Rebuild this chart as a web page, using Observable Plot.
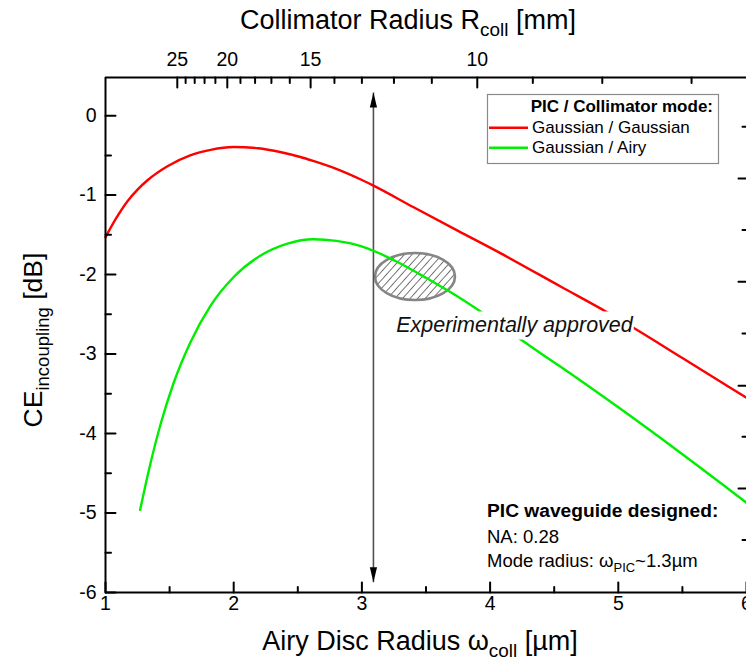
<!DOCTYPE html>
<html><head><meta charset="utf-8">
<script src="https://cdn.jsdelivr.net/npm/d3@7"></script>
<script src="https://cdn.jsdelivr.net/npm/@observablehq/plot@0.6"></script>
<style>
body{margin:0;background:#fff;}
#wrap{position:relative;width:746px;height:662px;overflow:hidden;background:#fff;}
</style></head>
<body><div id="wrap"></div>
<script>
// ---- data ----
const gaussX = [1.0,1.08,1.17,1.25,1.33,1.48,1.66,1.82,2.0,2.19,2.37,2.52,2.62,2.8,3.0,3.09,3.4,3.75,4.08,4.55,4.92,5.15,5.5,6.0];
const gaussY = [-1.53,-1.30,-1.08,-0.93,-0.81,-0.64,-0.50,-0.43,-0.395,-0.41,-0.46,-0.52,-0.57,-0.67,-0.81,-0.88,-1.15,-1.45,-1.73,-2.15,-2.48,-2.70,-3.05,-3.55];
const airyX = [1.27,1.35,1.43,1.53,1.66,1.82,2.0,2.21,2.42,2.62,2.8,3.01,3.09,3.3,3.51,3.69,3.94,4.34,4.55,5.0,5.5,6.0];
const airyY = [-4.96,-4.38,-3.88,-3.37,-2.86,-2.39,-2.03,-1.76,-1.61,-1.555,-1.575,-1.65,-1.70,-1.86,-2.05,-2.22,-2.48,-2.93,-3.16,-3.67,-4.26,-4.87];

const xMajor = [1,2,3,4,5,6];
const xMinor = [1.5,2.5,3.5,4.5,5.5];
const yMajor = [0,-1,-2,-3,-4,-5,-6];
const yMinor = [-0.5,-1.5,-2.5,-3.5,-4.5,-5.5];
const topMajorR = [25,20,15,10];
const topMinorR = [24,23,22,21,19,18,17,16,14,13,12,11,9,8,7];
const omegaTimesR = 39; // ω_coll [µm] * R_coll [mm] relation of the top axis
const rightMajor = [-0.79,-2.09,-3.40,-4.69];
const rightMinor = [-0.14,-1.44,-2.74,-4.04,-5.34];

const arrowX = [3.09];
const arrowTop = [0.29];
const arrowBottom = [-5.87];
const ellipseCenter = [{x:3.418, y:-2.03}];
const ellipseRadii = {rx:0.312, ry:0.296};
const noteText = [{x:4.19, y:-2.64, label:"Experimentally approved"}];

const xDomain = [1,6];
const yDomain = [-6,0.48];

// ---- helpers ----
const FONT = "'Liberation Sans', Arial, sans-serif";
// tick shapes drawn in screen space (y down), pointing into the plot
const tickIn = {
  left:   {draw(c,l){ c.moveTo(0,0); c.lineTo(l,0); }},
  right:  {draw(c,l){ c.moveTo(0,0); c.lineTo(-l,0); }},
  top:    {draw(c,l){ c.moveTo(0,0); c.lineTo(0,l); }},
  bottom: {draw(c,l){ c.moveTo(0,0); c.lineTo(0,-l); }}
};
const headUp = {draw(c){ c.moveTo(0,0); c.lineTo(-3.6,15); c.lineTo(3.6,15); c.closePath(); }};
const headDown = {draw(c){ c.moveTo(0,0); c.lineTo(-3.6,-15); c.lineTo(3.6,-15); c.closePath(); }};

const gaussData = gaussX.map((x,i)=>({x, y:gaussY[i]}));
const airyData = airyX.map((x,i)=>({x, y:airyY[i]}));

function ellipseRender(index, scales, values, dims, context) {
  const g = d3.create("svg:g");
  const defs = g.append("defs");
  const pat = defs.append("pattern").attr("id","hatch").attr("patternUnits","userSpaceOnUse")
    .attr("width",5.6).attr("height",5.6).attr("patternTransform","rotate(42)");
  pat.append("line").attr("x1",0).attr("y1",0).attr("x2",0).attr("y2",5.6)
    .attr("stroke","#111").attr("stroke-width",1.15);
  for (const i of index) {
    const d = ellipseCenter[i];
    const cx = scales.x(d.x), cy = scales.y(d.y);
    const rx = scales.x(d.x + ellipseRadii.rx) - cx;
    const ry = cy - scales.y(d.y + ellipseRadii.ry);
    g.append("ellipse").attr("cx",cx).attr("cy",cy).attr("rx",rx).attr("ry",ry)
      .attr("fill","url(#hatch)").attr("stroke","#858585").attr("stroke-width",2.6);
  }
  return g.node();
}

function textBgRender(index, scales, values, dims, context, next) {
  const g = next(index, scales, values, dims, context);
  const cnv = document.createElement("canvas").getContext("2d");
  cnv.font = "italic 21.5px 'Liberation Sans'";
  for (const i of index) {
    const w = cnv.measureText(noteText[i].label).width;
    const cx = values.x[i], cy = values.y[i];
    const r = document.createElementNS("http://www.w3.org/2000/svg","rect");
    r.setAttribute("x", cx - w/2 - 1); r.setAttribute("y", cy - 14);
    r.setAttribute("width", w + 2); r.setAttribute("height", 28);
    r.setAttribute("fill","white");
    g.insertBefore(r, g.firstChild);
  }
  return g;
}

const tk = (data, acc, side, len) => Plot.vector(data, {
  ...(side === "left" || side === "right" ? {y: acc} : {x: acc}),
  frameAnchor: side, length: len, anchor: "start", shape: tickIn[side],
  stroke: "black", strokeWidth: 2
});

const plot = Plot.plot({
  width: 746, height: 662,
  marginLeft: 105, marginRight: 0, marginTop: 77, marginBottom: 70,
  x: {domain: xDomain, axis: null},
  y: {domain: yDomain, axis: null},
  style: {fontFamily: FONT, background: "white", color: "black"},
  marks: [
    Plot.dot(ellipseCenter, {x:"x", y:"y", render: ellipseRender}),
    Plot.link(arrowX.map((x,i)=>({x, y1:arrowTop[i], y2:arrowBottom[i]})),
      {x1:"x", x2:"x", y1:"y1", y2:"y2", stroke:"#505050", strokeWidth:1.6}),
    Plot.vector(arrowX.map((x,i)=>({x, y:arrowTop[i]})), {x:"x", y:"y", anchor:"start", shape:headUp, fill:"black", stroke:"none"}),
    Plot.vector(arrowX.map((x,i)=>({x, y:arrowBottom[i]})), {x:"x", y:"y", anchor:"start", shape:headDown, fill:"black", stroke:"none"}),
    Plot.line(gaussData, {x:"x", y:"y", stroke:"#ff0000", strokeWidth:2.4, curve:"monotone-x"}),
    Plot.line(airyData, {x:"x", y:"y", stroke:"#00ee00", strokeWidth:2.4, curve:"monotone-x"}),
    Plot.text(noteText, {x:"x", y:"y", text:"label", fontSize:21.5, fontStyle:"italic", fill:"#111", render: textBgRender}),
    // frame
    Plot.ruleX([xDomain[0]], {stroke:"black", strokeWidth:2}),
    Plot.ruleY([yDomain[0], yDomain[1]], {stroke:"black", strokeWidth:2}),
    // ticks (pointing inward)
    tk(yMajor, d=>d, "left", 10),
    tk(yMinor, d=>d, "left", 5.5),
    tk(xMajor, d=>d, "bottom", 10),
    tk(xMinor, d=>d, "bottom", 5.5),
    tk(topMajorR, r=>omegaTimesR/r, "top", 10),
    tk(topMinorR, r=>omegaTimesR/r, "top", 5.5),
    tk(rightMajor, d=>d, "right", 8),
    tk(rightMinor, d=>d, "right", 4),
    // tick labels
    Plot.text(yMajor, {y:d=>d, text:d=>String(d), frameAnchor:"left", dx:-9, textAnchor:"end", fontSize:19.5, fill:"black"}),
    Plot.text(xMajor, {x:d=>d, text:d=>String(d), frameAnchor:"bottom", dy:17, fontSize:19.5, fill:"black"}),
    Plot.text(topMajorR, {x:r=>omegaTimesR/r, text:d=>String(d), frameAnchor:"top", dy:-25, fontSize:19.5, fill:"black"})
  ]
});

document.getElementById("wrap").appendChild(plot);

// ---- rich text (titles, legend, notes) ----
const svg = d3.select(plot);
function rich(x, y, size, parts, attrs = {}) {
  const t = svg.append("text").attr("x", x).attr("y", y).attr("font-size", size)
    .attr("font-family", FONT).attr("fill", "black").attr("text-anchor", "start");
  for (const [k, v] of Object.entries(attrs)) t.attr(k, v);
  let pending = 0;
  for (const p of parts) {
    if (typeof p === "string") {
      const s = t.append("tspan").text(p);
      if (pending) { s.attr("dy", -pending); pending = 0; }
    } else {
      const d = size * 0.26;
      t.append("tspan").attr("font-size", size * 0.7).attr("dy", d).text(p.sub);
      pending = d;
    }
  }
  return t;
}
rich(408, 29, 27, ["Collimator Radius R", {sub:"coll"}, " [mm]"], {"text-anchor":"middle"});
rich(420, 650, 27, ["Airy Disc Radius ω", {sub:"coll"}, " [µm]"], {"text-anchor":"middle"});
rich(0, 0, 26.5, ["CE", {sub:"incoupling"}, " [dB]"], {"text-anchor":"middle", transform:"translate(42,340) rotate(-90)"});

// legend
const legendTitle = "PIC / Collimator mode:";
const legendLabels = ["Gaussian / Gaussian", "Gaussian / Airy"];
const legendColors = ["#ff0000", "#00ee00"];
svg.append("rect").attr("x",487.5).attr("y",94.5).attr("width",231).attr("height",69)
  .attr("fill","white").attr("stroke","#8a8a8a").attr("stroke-width",1.2);
rich(713, 112, 17, [legendTitle], {"text-anchor":"end", "font-weight":"bold"});
legendLabels.forEach((lab, i) => {
  svg.append("line").attr("x1",489).attr("x2",528).attr("y1",127.7+20*i).attr("y2",127.7+20*i)
    .attr("stroke",legendColors[i]).attr("stroke-width",2.6);
  rich(532, 133+20*i, 17, [lab]);
});

// design note
rich(487, 517, 19.2, ["PIC waveguide designed:"], {"font-weight":"bold"});
rich(487, 543, 18.5, ["NA: 0.28"]);
rich(487, 567, 18.5, ["Mode radius: ω", {sub:"PIC"}, "~1.3µm"]);
</script></body></html>
